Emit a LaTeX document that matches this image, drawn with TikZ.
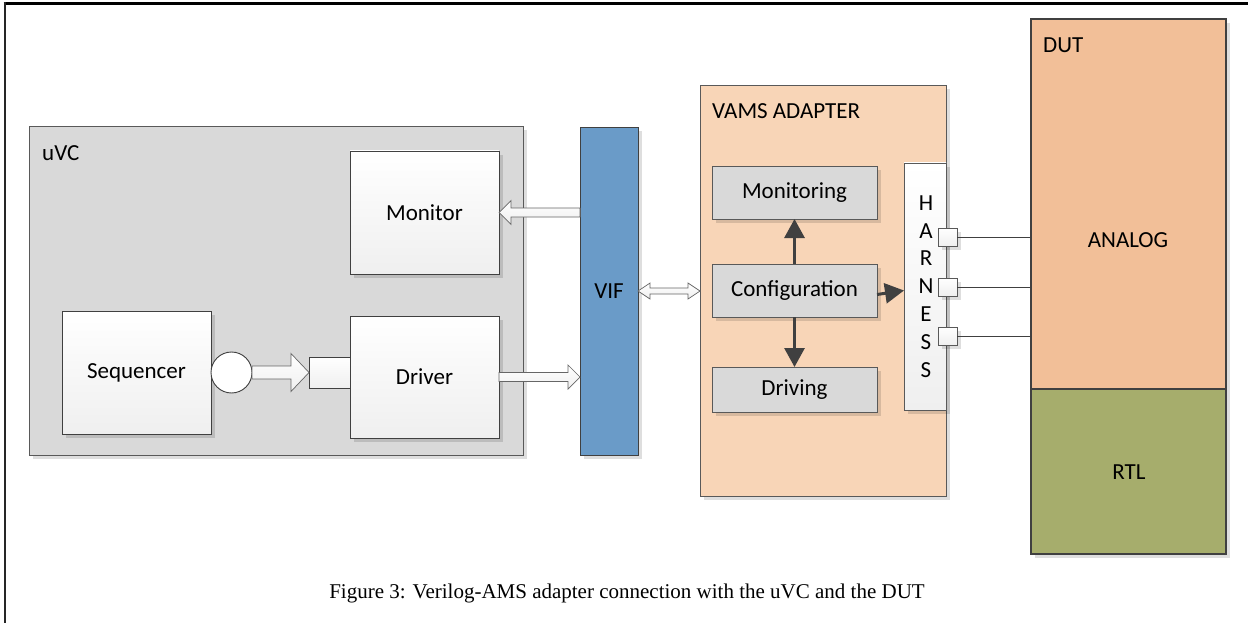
\documentclass[tikz,border=0pt]{standalone}
\usepackage{fontspec}
\setmainfont{Carlito}
\newfontfamily\capfont{Liberation Serif}
\usetikzlibrary{arrows.meta,shadows,calc}
\definecolor{uvcfill}{HTML}{D9D9D9}
\definecolor{edgegray}{HTML}{595959}
\definecolor{darkedge}{HTML}{404040}
\definecolor{viffill}{HTML}{6A9BC8}
\definecolor{vamsfill}{HTML}{F8D5B7}
\definecolor{analogfill}{HTML}{F2BF98}
\definecolor{rtlfill}{HTML}{A6AD6C}
\definecolor{lightbot}{HTML}{EFEFEF}
\tikzset{
  base/.style={inner sep=0pt, outer sep=0pt, anchor=north west, font=\fontsize{23}{27}\selectfont},
  shad/.style={drop shadow={shadow xshift=4pt, shadow yshift=-4pt, fill=black, opacity=0.13}},
  container/.style={base, draw=edgegray, line width=0.9pt, shad},
  whitebox/.style={base, draw=darkedge, line width=0.9pt, top color=white, bottom color=lightbot, shad},
  graybox/.style={base, draw=edgegray, line width=0.9pt, fill=uvcfill, shad},
  dutbox/.style={base, draw=darkedge, line width=2.4pt, shad},
  hollow/.style={draw=darkedge!80, line width=0.7pt, top color=white, bottom color=lightbot},
  darrow/.style={draw=darkedge, line width=3pt, -{Triangle[length=19pt,width=20pt]}},
  wire/.style={line width=0.9pt, draw=darkedge},
  lbl/.style={inner sep=0pt, font=\fontsize{23}{27}\selectfont},
}
% right-pointing block arrow from #1 to #2 (y of #1), shaft half #3, head half #4, head length #5
\newcommand\blkright[5]{%
  \path[hollow] let \p1=(#1), \p2=(#2) in
    (\x1,\y1+#3) -- (\x2-#5,\y1+#3) -- (\x2-#5,\y1+#4) -- (\x2,\y1) --
    (\x2-#5,\y1-#4) -- (\x2-#5,\y1-#3) -- (\x1,\y1-#3) -- cycle;}
\newcommand\blkleft[5]{%
  \path[hollow] let \p1=(#1), \p2=(#2) in
    (\x1,\y1+#3) -- (\x2+#5,\y1+#3) -- (\x2+#5,\y1+#4) -- (\x2,\y1) --
    (\x2+#5,\y1-#4) -- (\x2+#5,\y1-#3) -- (\x1,\y1-#3) -- cycle;}
\newcommand\blkboth[5]{%
  \path[hollow] let \p1=(#1), \p2=(#2) in
    (\x1,\y1) -- (\x1+#5,\y1+#4) -- (\x1+#5,\y1+#3) -- (\x2-#5,\y1+#3) -- (\x2-#5,\y1+#4) -- (\x2,\y1) --
    (\x2-#5,\y1-#4) -- (\x2-#5,\y1-#3) -- (\x1+#5,\y1-#3) -- (\x1+#5,\y1-#4) -- cycle;}
\begin{document}
\begin{tikzpicture}[x=1pt,y=-1pt]
\useasboundingbox[fill=white] (0,0) rectangle (1248,623);
% frame
\draw[line width=2.2pt, black] (3.5,3.5) -- (1248,3.5);
\draw[line width=2.2pt, black!85] (5,2.4) -- (5,623);

% uVC
\node[container, fill=uvcfill, minimum width=494pt, minimum height=329pt] (uvc) at (29,126) {};
\node[lbl, anchor=west] (uvclbl) at (42,153) {uVC};
\node[whitebox, minimum width=149pt, minimum height=123pt] (mon) at (350,151) {};
\node[lbl] at (mon.center) {Monitor};
\node[whitebox, minimum width=149pt, minimum height=123pt] (seq) at (62,311) {};
\node[lbl] at (seq.center) {Sequencer};
\node[whitebox, minimum width=149pt, minimum height=122pt] (drv) at (350,316) {};
\node[lbl] at (drv.center) {Driver};
\node[draw=darkedge, line width=0.9pt, fill=white, circle, minimum size=41pt, inner sep=0pt, outer sep=0pt, anchor=west] (port) at (seq.east) {};
\node[base, draw=darkedge, line width=0.9pt, top color=white, bottom color=lightbot, minimum width=41pt, minimum height=31pt, anchor=east] (exp) at (drv.west |- seq.east) {};

% VIF
\node[base, draw=darkedge, line width=0.9pt, fill=viffill, shad, minimum width=58pt, minimum height=328pt] (vif) at (580,127) {};
\node[lbl] at (vif.center) {VIF};

% block arrows
\blkright{port.east}{exp.west}{6.5}{19}{18}
\blkleft{vif.west |- mon.east}{mon.east}{4.5}{12}{12}
\blkright{drv.east}{vif.west |- drv.east}{4.5}{12}{12}

% VAMS adapter
\node[container, fill=vamsfill, minimum width=246pt, minimum height=411pt] (vams) at (700,85) {};
\node[lbl, anchor=west] (vamslbl) at (712,111) {VAMS ADAPTER};
\node[graybox, minimum width=165pt, minimum height=53pt] (mng) at (712,166) {};
\node[lbl] at (mng.center) {Monitoring};
\node[graybox, minimum width=165pt, minimum height=53pt] (cfg) at (712,264) {};
\node[lbl] at (cfg.center) {Configuration};
\node[graybox, minimum width=165pt, minimum height=45pt] (drvg) at (712,367) {};
\node[lbl] at (drvg.center) {Driving};
\node[base, draw=edgegray, line width=0.9pt, top color=white, bottom color=lightbot, shad, minimum width=42pt, minimum height=247pt] (har) at (904,163) {};
\foreach \l [count=\i from 0] in {H,A,R,N,E,S,S}
  \node[lbl] (har\i) at (926,{203+27.8*\i}) {\l};

\blkboth{vif.east}{vams.west |- vif.east}{3}{8}{12}

\draw[darrow] (cfg.north) -- (mng.south);
\draw[darrow] (cfg.south) -- (drvg.south |- drvg.north);
\coordinate (cfgout) at ($(cfg.east)+(0,4)$);
\draw[darrow] (cfgout) -- (har.west |- cfg.east);

% DUT
\node[dutbox, fill=analogfill, minimum width=195pt, minimum height=370pt] (ana) at (1031,19) {};
\node[dutbox, fill=rtlfill, minimum width=195pt, minimum height=165pt] (rtl) at (1031,389) {};
\node[lbl, anchor=west] (dutlbl) at (1043,45) {DUT};
\node[lbl] at (1128,240) {ANALOG};
\node[lbl] at (1129,472) {RTL};

% harness ports and wires
\foreach \y [count=\i] in {237,287,336} {
  \node[base, draw=edgegray, line width=0.8pt, top color=white, bottom color=lightbot, shad, minimum width=19pt, minimum height=18pt, anchor=west] (p\i) at (938,\y) {};
  \draw[wire] (p\i.east) -- (ana.west |- p\i.east);
}

% caption
\node[inner sep=0pt, font=\capfont\fontsize{21}{25}\selectfont] (cap) at (627,593) {Figure 3: Verilog-AMS adapter connection with the uVC and the DUT};
\end{tikzpicture}
\end{document}
